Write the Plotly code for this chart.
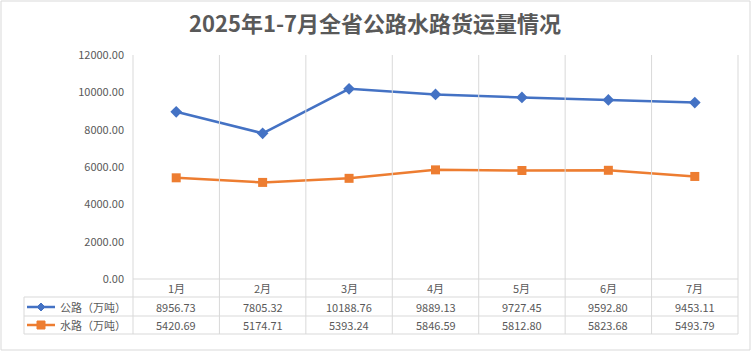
import plotly.graph_objects as go

months = ["1月", "2月", "3月", "4月", "5月", "6月", "7月"]
road = [8956.73, 7805.32, 10188.76, 9889.13, 9727.45, 9592.80, 9453.11]
water = [5420.69, 5174.71, 5393.24, 5846.59, 5812.80, 5823.68, 5493.79]
series_names = ["公路（万吨）", "水路（万吨）"]
title = "2025年1-7月全省公路水路货运量情况"

W, H = 754, 351
BLUE = "#4472C4"
ORANGE = "#ED7D31"
GRID = "#D9D9D9"
TXT = "#595959"
FONT = "Noto Sans CJK SC"

def px(x):
    return x / W

def py(y):
    return 1 - y / H

x0, x1 = 133, 738
y_top, y_zero = 55, 279
n = len(months)
colw = (x1 - x0) / n

fig = go.Figure()
fig.add_trace(go.Scatter(x=months, y=road, mode="lines+markers", name=series_names[0],
                         line=dict(color=BLUE, width=2.5),
                         marker=dict(symbol="diamond", size=9, color=BLUE)))
fig.add_trace(go.Scatter(x=months, y=water, mode="lines+markers", name=series_names[1],
                         line=dict(color=ORANGE, width=2.5),
                         marker=dict(symbol="square", size=9, color=ORANGE)))

shapes = []
# outer border
shapes.append(dict(type="rect", xref="paper", yref="paper", x0=px(1), x1=px(750), y0=py(350), y1=py(1),
                   line=dict(color=GRID, width=1)))
# vertical grid / table lines
for i in range(n + 1):
    xx = px(x0 + i * colw)
    shapes.append(dict(type="line", xref="paper", yref="paper", x0=xx, x1=xx, y0=py(334), y1=py(y_top),
                       line=dict(color=GRID, width=1)))
# horizontal table lines
shapes.append(dict(type="line", xref="paper", yref="paper", x0=px(x0), x1=px(x1), y0=py(y_zero), y1=py(y_zero),
                   line=dict(color=GRID, width=1)))
for yy in (297, 316, 334):
    shapes.append(dict(type="line", xref="paper", yref="paper", x0=px(24), x1=px(x1), y0=py(yy), y1=py(yy),
                       line=dict(color=GRID, width=1)))
shapes.append(dict(type="line", xref="paper", yref="paper", x0=px(24), x1=px(24), y0=py(334), y1=py(297),
                   line=dict(color=GRID, width=1)))

# legend keys in table
rows_y = [307, 325]
colors = [BLUE, ORANGE]
for r, (yy, c) in enumerate(zip(rows_y, colors)):
    shapes.append(dict(type="line", xref="paper", yref="paper", x0=px(27), x1=px(55), y0=py(yy), y1=py(yy),
                       line=dict(color=c, width=2.5)))
    cx = 41
    if r == 0:
        path = f"M {px(cx)},{py(yy-4)} L {px(cx+4)},{py(yy)} L {px(cx)},{py(yy+4)} L {px(cx-4)},{py(yy)} Z"
        shapes.append(dict(type="path", xref="paper", yref="paper", path=path,
                           fillcolor=c, line=dict(color=c, width=1)))
    else:
        shapes.append(dict(type="rect", xref="paper", yref="paper", x0=px(cx-4), x1=px(cx+4),
                           y0=py(yy+4), y1=py(yy-4), fillcolor=c, line=dict(color=c, width=1)))

annotations = []
annotations.append(dict(text=f"<b>{title}</b>", xref="paper", yref="paper", x=px(375), y=py(22),
                        showarrow=False, xanchor="center", yanchor="middle",
                        font=dict(family=FONT, size=22, color=TXT)))
for yy, name in zip(rows_y, series_names):
    annotations.append(dict(text=name, xref="paper", yref="paper", x=px(58), y=py(yy),
                            showarrow=False, xanchor="left", yanchor="middle",
                            font=dict(family=FONT, size=11, color=TXT)))
for vals, yy in ((road, rows_y[0]), (water, rows_y[1])):
    for m, v in zip(months, vals):
        annotations.append(dict(text=f"{v:.2f}", xref="x", yref="paper", x=m, y=py(yy),
                                showarrow=False, xanchor="center", yanchor="middle",
                                font=dict(family=FONT, size=11, color=TXT)))
for m in months:
    annotations.append(dict(text=m, xref="x", yref="paper", x=m, y=py(288),
                            showarrow=False, xanchor="center", yanchor="middle",
                            font=dict(family=FONT, size=11, color=TXT)))

fig.update_layout(
    width=W, height=H,
    margin=dict(l=0, r=0, t=0, b=0, autoexpand=False),
    paper_bgcolor="white", plot_bgcolor="white",
    showlegend=False,
    shapes=shapes,
    annotations=annotations,
    xaxis=dict(domain=[px(x0), px(x1)], range=[-0.5, n - 0.5], showgrid=False, automargin=False,
               showticklabels=False, zeroline=False, showline=False, fixedrange=True),
    yaxis=dict(domain=[py(y_zero), py(y_top)], range=[0, 12000], dtick=2000, tickformat=".2f",
               showgrid=False, zeroline=False, showline=False, automargin=False,
               ticks="", ticklabelstandoff=8,
               tickfont=dict(family=FONT, size=11, color=TXT)),
)

fig.write_html("out.html")
